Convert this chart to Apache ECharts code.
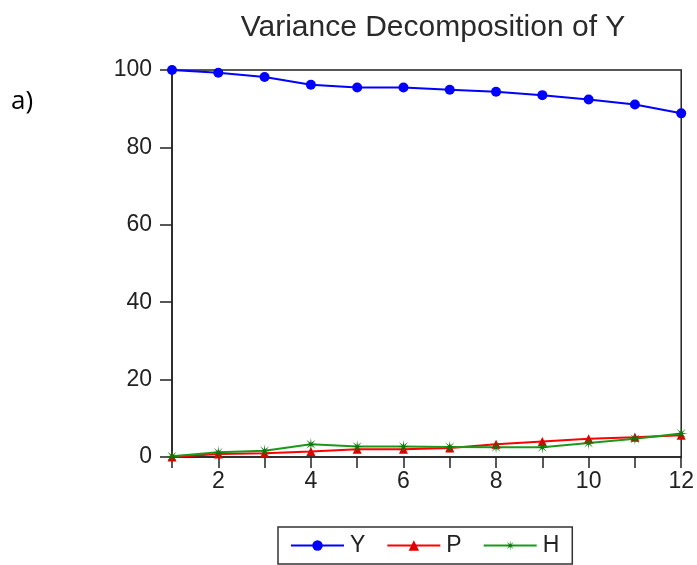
<!DOCTYPE html>
<html><head><meta charset="utf-8">
<script src="https://cdn.jsdelivr.net/npm/echarts@6/dist/echarts.min.js"></script>
<style>html,body{margin:0;padding:0;background:#fff}#c{width:697px;height:565px}</style>
</head><body><div id="c"></div>
<script>
const periods = [1,2,3,4,5,6,7,8,9,10,11,12];
const seriesY = [100, 99.3, 98.2, 96.2, 95.5, 95.5, 94.9, 94.4, 93.5, 92.4, 91.1, 88.8];
const seriesP = [0, 0.8, 1.0, 1.4, 2.0, 2.0, 2.3, 3.3, 4.0, 4.7, 5.1, 5.6];
const seriesH = [0.2, 1.2, 1.6, 3.3, 2.7, 2.7, 2.6, 2.5, 2.5, 3.6, 4.7, 6.1];
const yTicks = [0, 20, 40, 60, 80, 100];
const xLabelShown = [2,4,6,8,10,12];

const star = 'path://M100,50 L61.09,54.59 L85.36,85.36 L54.59,61.09 L50,100 L45.41,61.09 L14.64,85.36 L38.91,54.59 L0,50 L38.91,45.41 L14.64,14.64 L45.41,38.91 L50,0 L54.59,38.91 L85.36,14.64 L61.09,45.41 Z';
const pair = a => a.map((v,i)=>[periods[i], v]);
const font = 'Liberation Sans, Arial, sans-serif';

const chart = echarts.init(document.getElementById('c'), null, {renderer:'canvas'});
chart.setOption({
  animation:false,
  backgroundColor:'#fff',
  title:{text:'Variance Decomposition of Y', left:428, textAlign:'center', top:8,
    textStyle:{fontFamily:font, fontSize:30, fontWeight:'normal', color:'#2a2a2a'}},
  graphic:[{type:'text', left:11, top:89, style:{text:'a)', fontFamily:'Open Sans, sans-serif', fontSize:26, fill:'#000'}}],
  grid:{left:172, right:10, top:70, bottom:108, show:true, borderColor:'#222', borderWidth:1.5},
  xAxis:{type:'value', min:1, max:12, interval:1,
    axisLine:{show:true, lineStyle:{color:'#222', width:1.5}},
    axisTick:{show:true, length:11, lineStyle:{color:'#222', width:1.5}},
    splitLine:{show:false},
    axisLabel:{fontFamily:font, fontSize:23, color:'#222', margin:13,
      formatter:v=> xLabelShown.indexOf(v)>=0 ? String(v) : ''}},
  yAxis:{type:'value', min:yTicks[0], max:yTicks[yTicks.length-1], interval:20,
    axisLine:{show:true, lineStyle:{color:'#222', width:1.5}},
    axisTick:{show:true, length:12, lineStyle:{color:'#222', width:1.5}},
    splitLine:{show:false},
    axisLabel:{fontFamily:font, fontSize:23, color:'#222', margin:20}},
  legend:{left:278, top:527, itemWidth:53, itemHeight:13, itemGap:21,
    padding:[7,13,7,12], borderColor:'#333', borderWidth:1.5,
    textStyle:{fontFamily:font, fontSize:23, color:'#222', padding:[0,0,0,1]},
    data:['Y','P','H']},
  series:[
    {name:'Y', type:'line', data:pair(seriesY), symbol:'circle', symbolSize:10,
      lineStyle:{color:'#0000ff', width:2}, itemStyle:{color:'#0000ff'}},
    {name:'P', type:'line', data:pair(seriesP), symbol:'triangle', symbolSize:9,
      lineStyle:{color:'#ff0000', width:2}, itemStyle:{color:'#e00000'}},
    {name:'H', type:'line', data:pair(seriesH), symbol:star, symbolSize:13,
      lineStyle:{color:'#1a9a1a', width:2}, itemStyle:{color:'#0a7a0a'}}
  ]
});
</script></body></html>
